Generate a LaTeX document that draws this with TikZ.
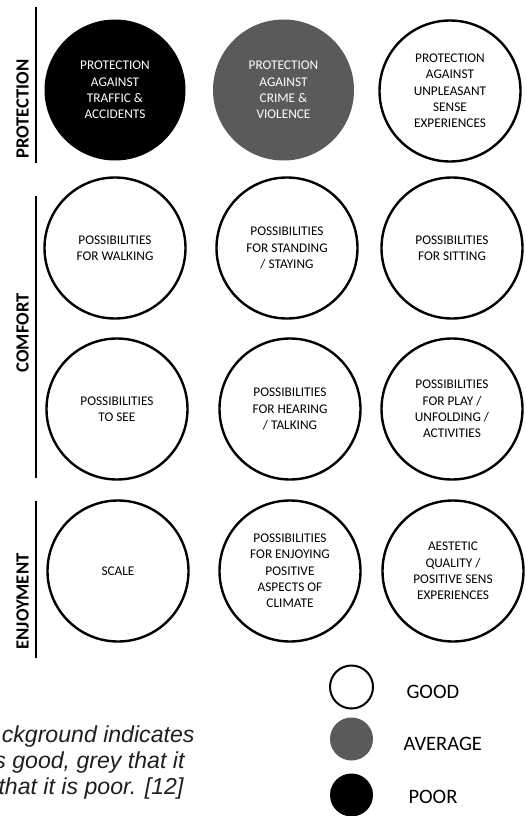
\documentclass[tikz,border=0pt]{standalone}
\usepackage{fontspec}
\setmainfont{Carlito}
\newfontfamily\capfont{Liberation Sans}
\definecolor{avg}{RGB}{90,90,90}
\tikzset{
  crit/.style={circle, minimum size=141pt, inner sep=0pt, align=center,
    font=\fontsize{13.3}{16.3}\selectfont},
  good/.style={crit, draw=black, line width=2.4pt, fill=white, text=black},
  poor/.style={crit, fill=black, text=white},
  average/.style={crit, fill=avg, text=white},
  grp/.style={rotate=90, anchor=base, font=\fontsize{18.6}{20}\selectfont\bfseries},
  sep/.style={line width=2pt},
  legtxt/.style={anchor=base west, font=\fontsize{20.5}{22}\selectfont},
  legdot/.style={circle, minimum size=43pt, inner sep=0pt},
  captxt/.style={anchor=base east, font=\capfont\itshape\fontsize{23.1}{26}\selectfont, text=black!88}
}
\begin{document}
\begin{tikzpicture}[x=1pt,y=-1pt]
\useasboundingbox (0,0) rectangle (525,816);
\clip (0,0) rectangle (525,816);
% group lines
\coordinate (p1) at (36,7);   \coordinate (p2) at (36,163);
\coordinate (c1) at (36,196); \coordinate (c2) at (36,478);
\coordinate (e1) at (36,501); \coordinate (e2) at (36,658);
\draw[sep] (p1) -- (p2);
\draw[sep] (c1) -- (c2);
\draw[sep] (e1) -- (e2);
\node[grp] (lprot) at (28.5,109) {PROTECTION};
\node[grp] (lcomf) at (28.5,333) {COMFORT};
\node[grp] (lenj) at (28.5,601.5) {ENJOYMENT};
% row 1
\node[poor] (traffic) at (115,90) {PROTECTION\\AGAINST\\TRAFFIC \&\\ACCIDENTS};
\node[average] (crime) at (283.5,90) {PROTECTION\\AGAINST\\CRIME \&\\VIOLENCE};
\node[good] (sense) at (450,91) {PROTECTION\\AGAINST\\UNPLEASANT\\SENSE\\EXPERIENCES};
% row 2
\node[good] (walk) at (115,248) {POSSIBILITIES\\FOR WALKING};
\node[good] (stand) at (287,248) {POSSIBILITIES\\FOR STANDING\\/ STAYING};
\node[good] (sit) at (452,248) {POSSIBILITIES\\FOR SITTING};
% row 3
\node[good] (see) at (117,409) {POSSIBILITIES\\TO SEE};
\node[good] (hear) at (290,409) {POSSIBILITIES\\FOR HEARING\\/ TALKING};
\node[good] (play) at (452,409) {POSSIBILITIES\\FOR PLAY /\\UNFOLDING /\\ACTIVITIES};
% row 4
\node[good] (scale) at (118,571) {SCALE};
\node[good] (climate) at (290,571) {POSSIBILITIES\\FOR ENJOYING\\POSITIVE\\ASPECTS OF\\CLIMATE};
\node[good] (aest) at (453,571) {AESTETIC\\QUALITY /\\POSITIVE SENS\\EXPERIENCES};
% legend
\node[legdot, draw=black, line width=2pt, fill=white] (lgood) at (351.5,687) {};
\node[legdot, fill=avg] (lavg) at (351.5,739) {};
\node[legdot, fill=black] (lpoor) at (351.5,795) {};
\node[legtxt] (tgood) at (403,698) {GOOD};
\node[legtxt] (tavg) at (400,750) {AVERAGE};
\node[legtxt] (tpoor) at (405,803) {POOR};
% caption (its left part lies off the picture, as in the reference)
\node[captxt] (cap1) at (198,742) {ckground indicates};
\node[captxt] (cap2) at (188,768) {s good, grey that it};
\node[captxt] (cap3) at (187,794) {that it is poor. [12]};
\end{tikzpicture}
\end{document}
